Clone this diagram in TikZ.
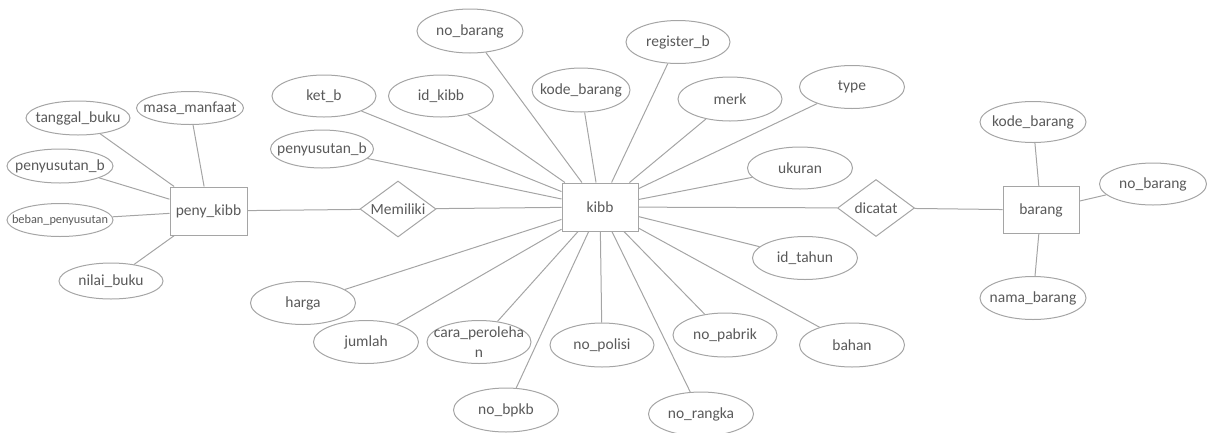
\documentclass[tikz,border=0pt]{standalone}
\usepackage{fontspec}
\setmainfont{Carlito}
\usetikzlibrary{shapes.geometric}
\definecolor{edgegray}{HTML}{A5A5A5}
\definecolor{textgray}{HTML}{595959}
\begin{document}
\begin{tikzpicture}[x=1pt,y=-1pt,
  every node/.style={font=\fontsize{15.5}{20}\selectfont, text=textgray},
  attr/.style={ellipse, draw=edgegray, line width=1pt, minimum width=105pt,
    minimum height=43pt, inner sep=0pt},
  entity/.style={rectangle, draw=edgegray, line width=1pt, minimum width=77pt,
    minimum height=48pt, inner sep=0pt},
  rel/.style={diamond, draw=edgegray, line width=1pt, minimum width=77pt,
    minimum height=57pt, inner sep=0pt},
  link/.style={draw=edgegray, line width=1pt}]
\useasboundingbox (0,0) rectangle (1207,432);

% entities and relationships
\node[entity] (penykibb) at (208.5,211) {peny\_kibb};
\node[rel, minimum width=76pt, minimum height=56pt, label=center:Memiliki] (memiliki) at (398,209) {};
\node[entity, minimum width=76pt] (kibb) at (600,207) {kibb};
\node[rel, label=center:dicatat] (dicatat) at (876,208) {};
\node[entity, minimum width=76pt, minimum height=47pt] (barang) at (1041,210) {barang};

% attributes of peny_kibb
\node[attr, minimum width=104pt, minimum height=34pt, label=center:tanggal\_buku] (tgl) at (78,118) {};
\node[attr, minimum width=107pt, minimum height=33pt, label=center:masa\_manfaat] (masa) at (190,108) {};
\node[attr, minimum width=106pt, minimum height=34pt, label=center:penyusutan\_b] (penyl) at (60,166) {};
\node[attr, minimum width=106pt, minimum height=33pt,
  label={[font=\fontsize{12.3}{14}\selectfont]center:beban\_penyusutan}] (beban) at (60,220) {};
\node[attr, minimum width=104pt, minimum height=36pt, label=center:nilai\_buku] (nilai) at (111,281) {};

% attributes of kibb
\node[attr, minimum width=106pt, minimum height=44pt, label=center:no\_barang] (nobar) at (470,31) {};
\node[attr, minimum width=104pt, minimum height=42pt, label=center:ket\_b] (ketb) at (324,96) {};
\node[attr, minimum height=42pt, label=center:id\_kibb] (idkibb) at (441,96) {};
\node[attr, minimum width=98pt, minimum height=44pt, label=center:kode\_barang] (kode) at (581,90) {};
\node[attr, minimum width=103pt, minimum height=38pt, label=center:penyusutan\_b] (penyc) at (322,149) {};
\node[attr, minimum width=104pt, label=center:register\_b] (reg) at (678,42) {};
\node[attr, minimum width=104pt, minimum height=44pt, label=center:merk] (merk) at (730,99) {};
\node[attr, label=center:type] (type) at (852,87) {};
\node[attr, minimum height=42pt, label=center:ukuran] (ukuran) at (800,168) {};
\node[attr, label=center:id\_tahun] (idtahun) at (805,258) {};
\node[attr, minimum height=44pt, label=center:bahan] (bahan) at (852,345) {};
\node[attr, minimum width=104pt, minimum height=44pt, label=center:no\_pabrik] (nopabrik) at (725,335) {};
\node[attr, minimum height=44pt, label=center:no\_rangka] (norangka) at (701,414) {};
\node[attr, minimum width=104pt, minimum height=44pt, label=center:no\_polisi] (nopolisi) at (602,345) {};
\node[attr, minimum height=44pt, label=center:no\_bpkb] (nobpkb) at (506,410) {};
\node[attr, minimum width=104pt,
  label={[align=center]center:cara\_peroleha\\n}] (cara) at (479,342) {};
\node[attr, label=center:jumlah] (jumlah) at (366,342) {};
\node[attr, label=center:harga] (harga) at (303,303) {};

% attributes of barang
\node[attr, minimum width=106pt, minimum height=41pt, label=center:kode\_barang] (kodeb) at (1033,122) {};
\node[attr, minimum width=107pt, minimum height=42pt, label=center:no\_barang] (nobarb) at (1153,184) {};
\node[attr, minimum width=106pt, label=center:nama\_barang] (namab) at (1033,298) {};

% relationship lines
\draw[link] (penykibb) -- (memiliki);
\draw[link] (memiliki) -- (kibb);
\draw[link] (kibb) -- (dicatat);
\draw[link] (dicatat) -- (barang);

% attribute lines
\foreach \a in {tgl,masa,penyl,beban,nilai}
  \draw[link] (\a) -- (penykibb);
\foreach \a in {nobar,ketb,idkibb,kode,penyc,reg,merk,type,ukuran,idtahun,
                bahan,nopabrik,norangka,nopolisi,nobpkb,cara,jumlah,harga}
  \draw[link] (\a) -- (kibb);
\foreach \a in {kodeb,nobarb,namab}
  \draw[link] (\a) -- (barang);
\end{tikzpicture}
\end{document}
